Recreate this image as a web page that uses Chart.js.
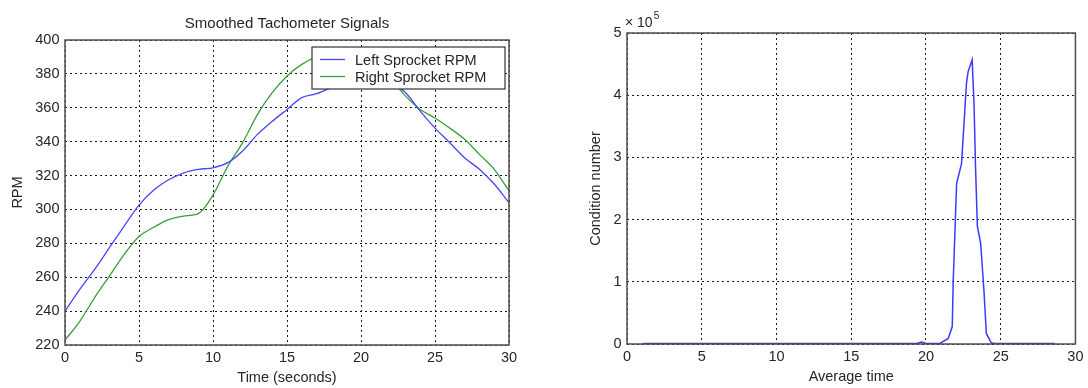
<!DOCTYPE html>
<html lang="en">
<head>
    <meta charset="UTF-8">
    <title>Smoothed Tachometer Signals / Condition number</title>
    <style>
        body { margin: 0; background: #fff; }
        .box { position: absolute; top: 0; width: 544px; height: 388px; }
        #left { left: 0; }
        #right { left: 544px; }
    </style>
    <script src="https://cdn.jsdelivr.net/npm/chart.js"></script>
</head>
<body>
    <div class="box" id="left"><canvas id="tachChart"></canvas></div>
    <div class="box" id="right"><canvas id="condChart"></canvas></div>
    <script>
        // left panel: smoothed tachometer signals, one sample per second
        const timeSec = [0, 1, 2, 3, 4, 5, 6, 7, 8, 9, 10, 11, 12, 13, 14, 15,
                         16, 17, 18, 19, 20, 21, 22, 23, 24, 25, 26, 27, 28, 29, 30];
        const leftRpm = [240, 252.8, 264.6, 277.4, 290.2, 302.5, 311.5, 317.5, 321.5, 323.6, 324.6,
                         327.6, 334.5, 344.3, 352, 359, 366, 368.3, 372, 376, 378,
                         378, 375, 369, 358, 348, 339.4, 330.5, 323.7, 315, 304];
        const rightRpm = [222.9, 234, 248, 260.7, 273.5, 284, 289.5, 294, 296.1, 297.5, 308.5,
                          325.6, 339.4, 356, 368.9, 378.8, 385.6, 390, 392, 392, 390,
                          385, 377, 367, 359, 354, 348, 341.4, 332.5, 323.7, 311];
        const rpmTicks = [220, 240, 260, 280, 300, 320, 340, 360, 380, 400];

        // right panel: condition number against average time
        const avgTime = [1.09, 5, 10, 15, 19.4, 19.7, 20.0, 20.94, 21.49, 21.76, 21.82, 22.05, 22.38,
                         22.71, 22.82, 23.09, 23.22, 23.31, 23.44, 23.66, 23.89, 24.04, 24.37, 24.6, 28.6];
        const condNumber = [800, 800, 800, 800, 900, 3000, 800, 1000, 9000, 28000, 98000, 258000, 290000,
                            419000, 438000, 457000, 382000, 290000, 189000, 162000, 82000, 17000, 2000, 800, 800];
        const timeTicks = [0, 5, 10, 15, 20, 25, 30];

        const FONT = 'Liberation Sans, Arial, sans-serif';
        const TEXT = '#262626';
        const BLUE = '#4646ff';
        const GREEN = '#3c9c3c';

        // matlab style box round the axes
        const frame = {
            id: 'frame',
            afterDraw(chart) {
                const a = chart.chartArea;
                const ctx = chart.ctx;
                ctx.save();
                ctx.strokeStyle = '#4d4d4d';
                ctx.lineWidth = 1.5;
                ctx.strokeRect(a.left, a.top, a.right - a.left, a.bottom - a.top);
                ctx.restore();
            }
        };

        // legend box inside the axes, top right
        const boxLegend = {
            id: 'boxLegend',
            afterDatasetsDraw(chart) {
                const ctx = chart.ctx;
                const x = 312, y = 47, w = 193, h = 42;
                ctx.save();
                ctx.fillStyle = '#fff';
                ctx.fillRect(x, y, w, h);
                ctx.strokeStyle = '#333';
                ctx.lineWidth = 1.2;
                ctx.strokeRect(x, y, w, h);
                ctx.font = '14.5px ' + FONT;
                ctx.textBaseline = 'middle';
                chart.data.datasets.forEach((ds, i) => {
                    const ly = 59.5 + i * 17;
                    ctx.strokeStyle = ds.borderColor;
                    ctx.lineWidth = 1.3;
                    ctx.beginPath();
                    ctx.moveTo(320, ly);
                    ctx.lineTo(345, ly);
                    ctx.stroke();
                    ctx.fillStyle = TEXT;
                    ctx.fillText(ds.label, 355, ly + 1);
                });
                ctx.restore();
            }
        };

        // "x 10^5" exponent above the y axis
        const exponent = {
            id: 'exponent',
            afterDraw(chart) {
                const ctx = chart.ctx;
                const x = chart.chartArea.left - 2;
                ctx.save();
                ctx.fillStyle = TEXT;
                ctx.textBaseline = 'alphabetic';
                ctx.font = '14px ' + FONT;
                ctx.fillText('× 10', x, 27);
                const w = ctx.measureText('× 10').width;
                ctx.font = '10px ' + FONT;
                ctx.fillText('5', x + w + 1, 19);
                ctx.restore();
            }
        };

        function axisOpts(min, max, ticks, tickPad, title, titlePad, width, height, fmt) {
            return {
                type: 'linear',
                min: min,
                max: max,
                afterBuildTicks: function(scale) {
                    scale.ticks = ticks.map(v => ({ value: v }));
                },
                afterFit: function(scale) {
                    if (width) scale.width = width;
                    if (height) scale.height = height;
                },
                ticks: {
                    color: TEXT,
                    padding: tickPad,
                    autoSkip: false,
                    maxRotation: 0,
                    font: { family: FONT, size: 14.5 },
                    callback: fmt || (v => v)
                },
                grid: { color: '#1a1a1a', lineWidth: 1, drawTicks: false },
                border: { display: false, dash: [2, 3] },
                title: {
                    display: true,
                    text: title,
                    color: TEXT,
                    font: { family: FONT, size: 14.5 },
                    padding: titlePad
                }
            };
        }

        new Chart(document.getElementById('tachChart'), {
            type: 'line',
            data: {
                datasets: [
                    {
                        label: 'Left Sprocket RPM',
                        data: timeSec.map((t, i) => ({ x: t, y: leftRpm[i] })),
                        borderColor: BLUE,
                        borderWidth: 1.3,
                        pointRadius: 0,
                        cubicInterpolationMode: 'monotone'
                    },
                    {
                        label: 'Right Sprocket RPM',
                        data: timeSec.map((t, i) => ({ x: t, y: rightRpm[i] })),
                        borderColor: GREEN,
                        borderWidth: 1.3,
                        pointRadius: 0,
                        cubicInterpolationMode: 'monotone'
                    }
                ]
            },
            options: {
                responsive: true,
                maintainAspectRatio: false,
                animation: false,
                layout: { padding: { left: 0, right: 35, top: 0, bottom: 0 } },
                scales: {
                    x: axisOpts(0, 30, timeTicks, 4.5, 'Time (seconds)', { top: 0, bottom: 1.3 }, 0, 43),
                    y: axisOpts(220, 400, rpmTicks, 5.5, 'RPM', { top: 9.3, bottom: 0 }, 65, 0)
                },
                plugins: {
                    legend: { display: false },
                    tooltip: { enabled: false },
                    title: {
                        display: true,
                        fullSize: false,
                        text: 'Smoothed Tachometer Signals',
                        color: TEXT,
                        font: { family: FONT, size: 15, weight: 'normal' },
                        padding: { top: 15, bottom: 7 }
                    }
                }
            },
            plugins: [boxLegend, frame]
        });

        new Chart(document.getElementById('condChart'), {
            type: 'line',
            data: {
                datasets: [{
                    label: 'Condition number',
                    data: avgTime.map((t, i) => ({ x: t, y: condNumber[i] })),
                    borderColor: '#3a3aff',
                    borderWidth: 1.5,
                    pointRadius: 0,
                    tension: 0
                }]
            },
            options: {
                responsive: true,
                maintainAspectRatio: false,
                animation: false,
                layout: { padding: { left: 0, right: 10, top: 33, bottom: 0 } },
                scales: {
                    x: axisOpts(0, 30, timeTicks, 4.5, 'Average time', { top: 0, bottom: 2.6 }, 0, 44),
                    y: axisOpts(0, 500000, [0, 100000, 200000, 300000, 400000, 500000], 5.5,
                                'Condition number', { top: 43.3, bottom: 0 }, 83, 0, v => v / 100000)
                },
                plugins: {
                    legend: { display: false },
                    tooltip: { enabled: false }
                }
            },
            plugins: [exponent, frame]
        });
    </script>
</body>
</html>
